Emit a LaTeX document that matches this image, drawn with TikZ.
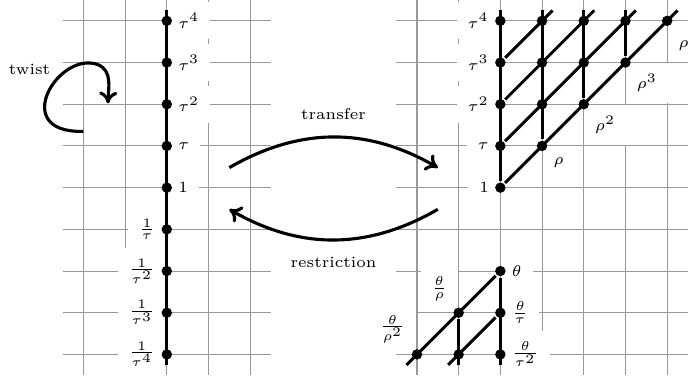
\documentclass[tikz,border=0pt]{standalone}
\usetikzlibrary{arrows.meta, backgrounds}
\tikzset{
  every picture/.style={font=\fontsize{6}{7}\selectfont, line width=1.15pt, x=16pt, y=16pt},
  dot/.style={circle, fill=black, inner sep=0pt, minimum size=4pt},
  lab/.style={fill=white, inner sep=4.2pt},
  gridline/.style={draw=black!40, line width=0.4pt},
  arrow/.style={-{Computer Modern Rightarrow[length=4.5pt, width=7pt]}, line width=1.2pt},
}
\begin{document}
\begin{tikzpicture}
  \useasboundingbox (-4.0,-4.595) rectangle (12.5,4.5);
  % dots
  \foreach \k in {0,...,4} \node[dot] (lt\k) at (0,\k) {};
  \foreach \k in {1,...,4} \node[dot] (li\k) at (0,-\k) {};
  \foreach \j in {0,...,4} \foreach \i in {0,...,\j} \node[dot] (r\i\j) at (8+\i,\j) {};
  \foreach \i/\j in {0/2,0/3,0/4,1/3,1/4,2/4} \node[dot] (q\i\j) at (8-\i,-\j) {};
  % grids and labels
  \begin{scope}[on background layer]
    \draw[gridline, step=1] (-2.5,-4.5) grid (2.5,4.5);
    \draw[gridline, step=1] (5.5,-4.5) grid (12.5,4.5);
    \node[lab, right] (tl0) at (lt0) {$1$};
    \node[lab, right] (tl1) at (lt1) {$\tau$};
    \foreach \k in {2,3,4} \node[lab, right] (tl\k) at (lt\k) {$\tau^{\k}$};
    \node[lab, left] (il1) at (li1) {$\frac{1}{\tau}$};
    \foreach \k in {2,3,4} \node[lab, left] (il\k) at (li\k) {$\frac{1}{\tau^{\k}}$};
    \node[lab, left] (rl0) at (r00) {$1$};
    \node[lab, left] (rl1) at (r01) {$\tau$};
    \foreach \k in {2,3,4} \node[lab, left] (rl\k) at (r0\k) {$\tau^{\k}$};
    \node[lab, below right] (rho1) at (r11) {$\rho$};
    \foreach \k in {2,3,4} \node[lab, below right] (rho\k) at (r\k\k) {$\rho^{\k}$};
    \node[lab, right] (th0) at (q02) {$\theta$};
    \node[lab, right] (th1) at (q03) {$\frac{\theta}{\tau}$};
    \node[lab, right] (th2) at (q04) {$\frac{\theta}{\tau^2}$};
    \node[lab, above left] (thr1) at (q13) {$\frac{\theta}{\rho}$};
    \node[lab, above left] (thr2) at (q24) {$\frac{\theta}{\rho^2}$};
  \end{scope}
  % tau column
  \coordinate (ltop) at (0,4.25);
  \coordinate (lbot) at (0,-4.25);
  \draw (lbot) -- (ltop);
  % twist
  \node (twist) at (-3.29,2.83) {twist};
  \coordinate (tws) at (-2,1.35);
  \coordinate (twe) at (-1.41,2.02);
  \draw[arrow] (tws) .. controls (-3.8,1.3) and (-2.6,3.3) .. (-1.65,2.95) .. controls (-1.3,2.8) and (-1.4,2.4) .. (twe);
  % rho lattice
  \foreach \i in {0,...,3} {
    \coordinate (vtop\i) at (8+\i,4.25);
    \draw (r\i\i) -- (vtop\i);
    \coordinate (dtop\i) at (12.25-\i,4.25);
    \draw (r0\i) -- (dtop\i);
  }
  % theta part
  \coordinate (b0) at (8,-4.25);
  \coordinate (b1) at (7,-4.25);
  \coordinate (d0) at (5.75,-4.25);
  \coordinate (d1) at (6.75,-4.25);
  \draw (q02) -- (b0);
  \draw (q13) -- (b1);
  \draw (q02) -- (d0);
  \draw (q03) -- (d1);
  % transfer and restriction
  \coordinate (tra) at (1.5,0.48);
  \coordinate (trb) at (6.5,0.48);
  \coordinate (rea) at (6.5,-0.52);
  \coordinate (reb) at (1.5,-0.52);
  \draw[arrow] (tra) to[bend left=30] node[above=2.7pt] (trlab) {transfer} (trb);
  \draw[arrow] (rea) to[bend left=30] node[below=2.7pt] (relab) {restriction} (reb);
\end{tikzpicture}
\end{document}
